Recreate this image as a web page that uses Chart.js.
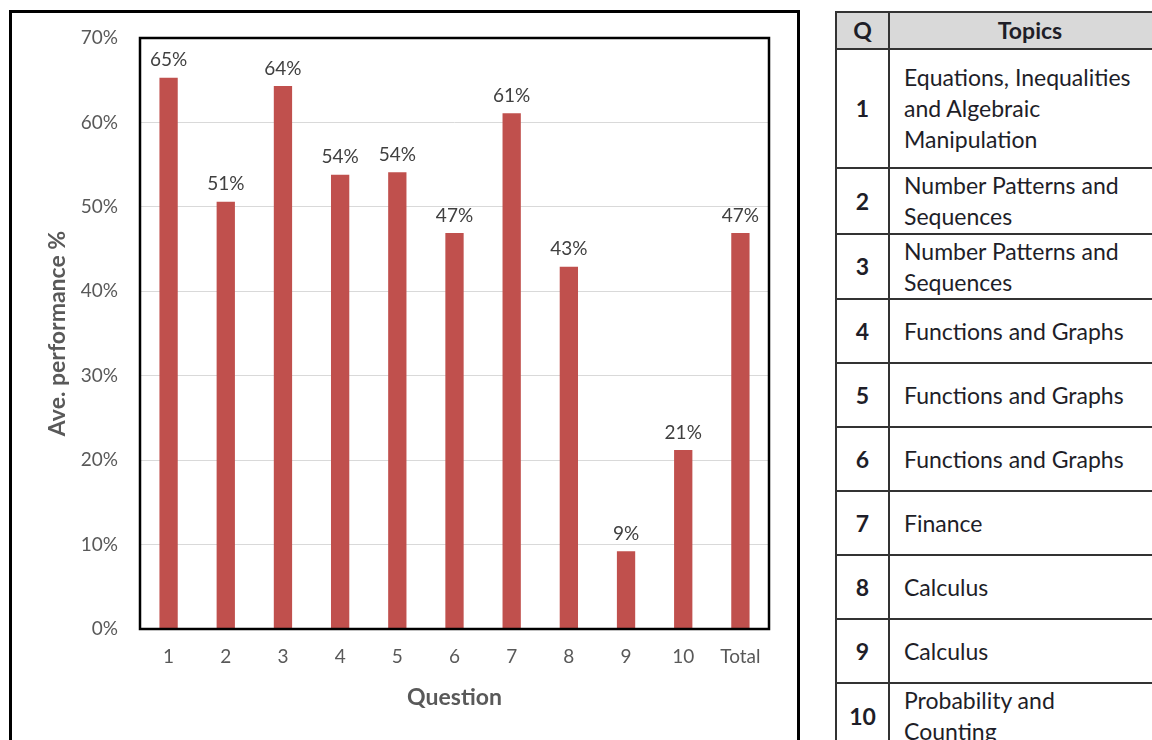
<!DOCTYPE html>
<html>
<head>
<meta charset="utf-8">
<script src="https://cdn.jsdelivr.net/npm/chart.js@4"></script>
<style>
  html, body { margin: 0; padding: 0; background: #fff; }
  body { width: 1152px; height: 740px; position: relative; overflow: hidden; font-family: Lato, "Noto Sans", sans-serif; }
  #chart-box { position: absolute; left: 9px; top: 10px; width: 785px; height: 800px; border: 3px solid #000; }
  #chart-wrap { position: absolute; left: 0; top: 0; width: 800px; height: 740px; }
  #topics { position: absolute; left: 835px; top: 11px; width: 349px; border-collapse: collapse; font-size: 23px; color: #1e1e28; table-layout: fixed; }
  #topics td, #topics th { border: 2px solid #333; padding: 0 14px; line-height: 31px; }
  #topics th { background: #d9d9d9; font-weight: bold; height: 35px; }
  #topics th.topic-head { padding-right: 48px; padding-left: 34px; }
  #topics td.q { text-align: center; font-weight: bold; padding: 0; }
  #topics td.t { text-align: left; padding-right: 48px; }
</style>
</head>
<body>
<div id="chart-box"></div>
<div id="chart-wrap"><canvas id="chart-perf" width="800" height="740"></canvas></div>

<table id="topics">
  <colgroup><col style="width:53px"><col style="width:296px"></colgroup>
  <tbody id="topics-body"></tbody>
</table>

<script>
// ── Data ────────────────────────────────────────────────────────
const questions = ['1', '2', '3', '4', '5', '6', '7', '8', '9', '10', 'Total'];
const avgPerformance = [65.3, 50.6, 64.3, 53.8, 54.1, 46.9, 61.1, 42.9, 9.2, 21.2, 46.9];
const yTicks = [0, 10, 20, 30, 40, 50, 60, 70];

const topicQs = ['1', '2', '3', '4', '5', '6', '7', '8', '9', '10'];
const topicNames = [
  'Equations, Inequalities and Algebraic Manipulation',
  'Number Patterns and Sequences',
  'Number Patterns and Sequences',
  'Functions and Graphs',
  'Functions and Graphs',
  'Functions and Graphs',
  'Finance',
  'Calculus',
  'Calculus',
  'Probability and Counting',
];
const topicRowHeights = [119, 66, 65, 64, 64, 64, 64, 64, 64, 66];

// ── Topics table ────────────────────────────────────────────────
const tbody = document.getElementById('topics-body');
const head = document.createElement('tr');
head.innerHTML = '<th>Q</th><th class="topic-head">Topics</th>';
tbody.appendChild(head);
topicQs.forEach((q, i) => {
  const tr = document.createElement('tr');
  tr.style.height = topicRowHeights[i] + 'px';
  tr.innerHTML = `<td class="q">${q}</td><td class="t">${topicNames[i]}</td>`;
  tbody.appendChild(tr);
});

// ── Plugins ─────────────────────────────────────────────────────
const plotBorder = {
  id: 'plotBorder',
  afterDraw(chart) {
    const { ctx, chartArea: a } = chart;
    ctx.save();
    ctx.strokeStyle = '#000';
    ctx.lineWidth = 2.5;
    ctx.strokeRect(a.left, a.top, a.right - a.left, a.bottom - a.top);
    ctx.restore();
  },
};

const barLabels = {
  id: 'barLabels',
  afterDatasetsDraw(chart) {
    const { ctx } = chart;
    const meta = chart.getDatasetMeta(0);
    ctx.save();
    ctx.font = '19px Lato, "Noto Sans", sans-serif';
    ctx.fillStyle = '#404040';
    ctx.textAlign = 'center';
    ctx.textBaseline = 'bottom';
    meta.data.forEach((bar, i) => {
      ctx.fillText(Math.round(avgPerformance[i]) + '%', bar.x, bar.y - 8);
    });
    ctx.restore();
  },
};

// ── Chart ───────────────────────────────────────────────────────
const tickFont = { family: 'Lato, "Noto Sans", sans-serif', size: 19 };
const titleFont = { family: 'Lato, "Noto Sans", sans-serif', size: 23, weight: 'bold' };

new Chart(document.getElementById('chart-perf'), {
  type: 'bar',
  data: {
    labels: questions,
    datasets: [{
      data: avgPerformance,
      backgroundColor: '#c0504d',
      barPercentage: 0.32,
      categoryPercentage: 1,
    }],
  },
  options: {
    responsive: false,
    animation: false,
    layout: { padding: { top: 38, right: 31, left: 0, bottom: 0 } },
    plugins: { legend: { display: false }, tooltip: { enabled: false } },
    scales: {
      x: {
        grid: { display: false, drawTicks: false },
        border: { display: false },
        ticks: { color: '#595959', font: tickFont, padding: 16 },
        title: { display: true, text: 'Question', color: '#595959', font: titleFont, padding: { bottom: 29 } },
        afterFit(scale) { scale.height = 111; },
      },
      y: {
        min: 0,
        max: 70,
        afterBuildTicks(scale) { scale.ticks = yTicks.map(v => ({ value: v })); },
        grid: { color: '#d9d9d9', lineWidth: 1, drawTicks: false },
        border: { display: false },
        ticks: { color: '#595959', font: tickFont, padding: 22, callback: v => v + '%' },
        title: { display: true, text: 'Ave. performance %', color: '#595959', font: titleFont, padding: { top: 44 } },
        afterFit(scale) { scale.width = 140; },
      },
    },
  },
  plugins: [plotBorder, barLabels],
});
</script>
</body>
</html>
